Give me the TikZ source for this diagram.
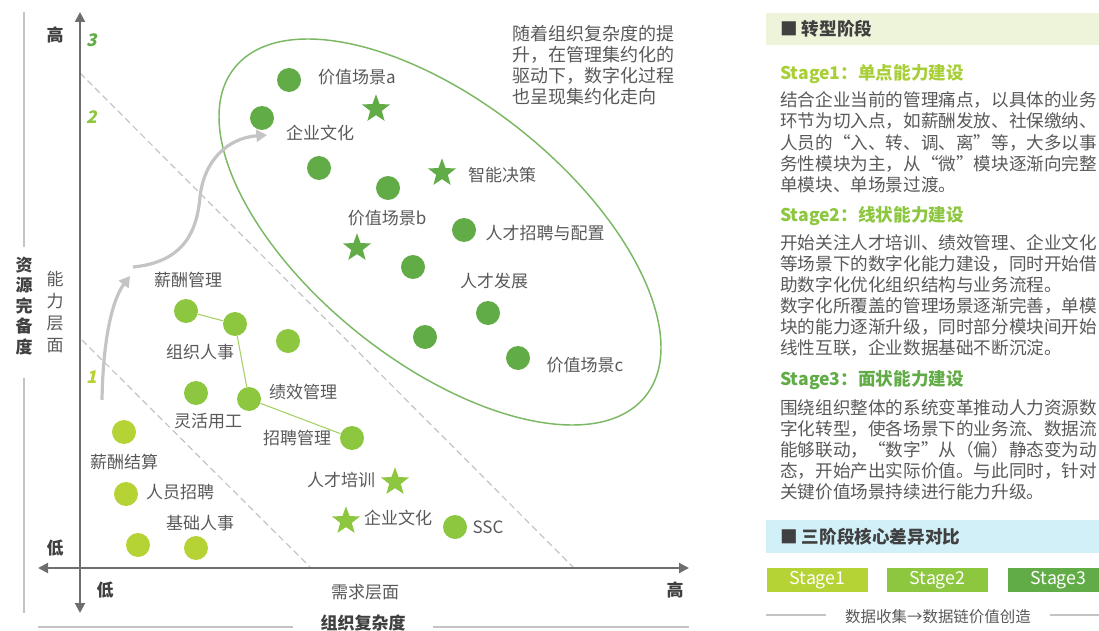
\documentclass[tikz,border=0pt]{standalone}
\usepackage{fontspec}
\setmainfont{Noto Sans CJK SC}
\newfontfamily\numfont[FakeSlant=0.22,BoldFeatures={FakeSlant=0.22}]{Noto Sans CJK SC}
\usetikzlibrary{shapes.geometric,arrows.meta}
\definecolor{gA}{HTML}{62AC47}
\definecolor{gB}{HTML}{8DC63F}
\definecolor{gC}{HTML}{B5D334}
\definecolor{hA}{HTML}{A9CF38}
\definecolor{txt}{HTML}{595959}
\definecolor{dtxt}{HTML}{404040}
\definecolor{axisc}{HTML}{6E6E6E}
\definecolor{lgray}{HTML}{C4C4C4}
\definecolor{bandA}{HTML}{EEF4DA}
\definecolor{bandB}{HTML}{D2F0F8}
\newcommand{\labf}{\fontsize{12.75}{15}\selectfont}
\newcommand{\bodyf}{\fontsize{13.2}{16}\selectfont}
\begin{document}
\begin{tikzpicture}[x=0.75pt,y=-0.75pt,
  dotA/.style={circle,fill=gA,minimum size=18pt,inner sep=0pt},
  dotB/.style={circle,fill=gB,minimum size=18pt,inner sep=0pt},
  dotC/.style={circle,fill=gC,minimum size=18pt,inner sep=0pt},
  starA/.style={star,star points=5,star point ratio=2.4,fill=gA,minimum size=22pt,inner sep=0pt},
  starB/.style={star,star points=5,star point ratio=2.4,fill=gB,minimum size=22pt,inner sep=0pt},
  labtxt/.style={text=txt,font=\labf,inner sep=0pt},
  axl/.style={text=dtxt,font=\labf\bfseries,inner sep=0pt},
  numtxt/.style={font=\numfont\fontsize{13}{13}\selectfont\bfseries,inner sep=0pt},
  bodytxt/.style={text=txt,font=\bodyf,inner sep=0pt,anchor=west},
  headtxt/.style={font=\bodyf\bfseries,inner sep=0pt,anchor=west},
  axisline/.style={draw=axisc,line width=1.5pt,-{Triangle[width=7.5pt,length=7.5pt]}},
  guideline/.style={draw=lgray,line width=0.8pt},
  sepline/.style={draw=lgray,line width=0.9pt,dash pattern=on 5pt off 3pt},
  growarrow/.style={draw=lgray,line width=2.4pt,-{Triangle[width=9pt,length=8pt]}},
  linkline/.style={draw=gB!80,line width=0.8pt},
  sbox/.style={minimum width=75.75pt,minimum height=18pt,inner sep=0pt,text=white,font=\fontsize{13.3}{13.3}\selectfont}
]
\useasboundingbox (0,0) rectangle (1099,631);

% side guide lines
\coordinate (g1a) at (24,12); \coordinate (g1b) at (24,247);
\coordinate (g2a) at (24,378); \coordinate (g2b) at (24,613);
\draw[guideline] (g1a) -- (g1b);
\draw[guideline] (g2a) -- (g2b);
\coordinate (g3a) at (38,627); \coordinate (g3b) at (293,627);
\coordinate (g4a) at (433,627); \coordinate (g4b) at (689,627);
\draw[guideline] (g3a) -- (g3b);
\draw[guideline] (g4a) -- (g4b);

% dashed separators
\coordinate (d1a) at (80,73); \coordinate (d1b) at (573,567);
\coordinate (d2a) at (82,340); \coordinate (d2b) at (310,567);
\draw[sepline] (d1a) -- (d1b);
\draw[sepline] (d2a) -- (d2b);

% axes
\coordinate (O) at (80,568);
\coordinate (ytop) at (80,12); \coordinate (ybot) at (80,613);
\coordinate (xl) at (38,568); \coordinate (xr) at (689,568);
\draw[axisline] (O) -- (ytop);
\draw[axisline] (O) -- (ybot);
\draw[axisline] (O) -- (xl);
\draw[axisline] (O) -- (xr);

% axis labels
\node[axl] (yhi) at (55,35) {高};
\node[axl] (ylo) at (55,548) {低};
\node[axl] (xlo) at (105,590) {低};
\node[axl] (xhi) at (675,590) {高};
\node[labtxt] (xdem) at (365,592) {需求层面};
\node[axl] (xtitle) at (363,623) {组织复杂度};
\node[axl,align=center,font=\fontsize{12.75}{15.4}\selectfont\bfseries] (ytitle) at (24,306) {资\\源\\完\\备\\度};
\node[labtxt,align=center,font=\fontsize{12.75}{16.3}\selectfont] (ycap) at (55,312) {能\\力\\层\\面};
\node[numtxt,text=gA] (n3) at (92,40) {3};
\node[numtxt,text=gB] (n2) at (92,117) {2};
\node[numtxt,text=gC] (n1) at (92,377) {1};

% ellipse
\draw[gA!85,line width=1.1pt,rotate around={-38.6:(440,232)}] (440,232) ellipse [x radius=263, y radius=130];

% growth arrows
\coordinate (ga0) at (102,400); \coordinate (ga1) at (130,276);
\coordinate (gb0) at (133,267); \coordinate (gbm) at (200,197); \coordinate (gb1) at (267,135);
\draw[growarrow] (ga0) .. controls (103,340) and (112,300) .. (ga1);
\draw[growarrow] (gb0) .. controls (185,262) and (197,230) .. (gbm) .. controls (204,160) and (228,138) .. (gb1);

% stage 3 items
\node[dotA] (a1) at (289,80) {};
\node[dotA] (a2) at (262,118) {};
\node[starA] (as1) at (376,109) {};
\node[dotA] (a3) at (319,168) {};
\node[dotA] (a4) at (388,188) {};
\node[starA] (as2) at (442,173) {};
\node[dotA] (a5) at (464,230) {};
\node[starA] (as3) at (357,248) {};
\node[dotA] (a6) at (413,267) {};
\node[dotA] (a7) at (488,313) {};
\node[dotA] (a8) at (425,337) {};
\node[dotA] (a9) at (518,358) {};
\node[labtxt] (la1) at (357,77) {价值场景a};
\node[labtxt] (la2) at (320,133) {企业文化};
\node[labtxt] (la3) at (502,175) {智能决策};
\node[labtxt] (la4) at (387,218) {价值场景b};
\node[labtxt] (la5) at (545,233) {人才招聘与配置};
\node[labtxt] (la6) at (494,281) {人才发展};
\node[labtxt] (la7) at (585,365) {价值场景c};

% stage 2 items
\node[dotB] (b1) at (186,311) {};
\node[dotB] (b2) at (235,324) {};
\node[dotB] (b3) at (288,341) {};
\node[dotB] (b4) at (196,393) {};
\node[dotB] (b5) at (249,399) {};
\node[dotB] (b6) at (352,438) {};
\node[starB] (bs1) at (395,482) {};
\node[starB] (bs2) at (346,521) {};
\node[dotB] (b7) at (455,527) {};
\draw[linkline] (b1) -- (b2) -- (b5) -- (b6);
\node[labtxt] (lb1) at (188,280) {薪酬管理};
\node[labtxt] (lb2) at (200,352) {组织人事};
\node[labtxt] (lb3) at (208,421) {灵活用工};
\node[labtxt] (lb4) at (303,392) {绩效管理};
\node[labtxt] (lb5) at (297,438) {招聘管理};
\node[labtxt] (lb6) at (341,480) {人才培训};
\node[labtxt] (lb7) at (398,518) {企业文化};
\node[labtxt] (lb8) at (488,527) {SSC};

% stage 1 items
\node[dotC] (c1) at (124,432) {};
\node[dotC] (c2) at (126,494) {};
\node[dotC] (c3) at (138,545) {};
\node[dotC] (c4) at (196,548) {};
\node[labtxt] (lc1) at (124,462) {薪酬结算};
\node[labtxt] (lc2) at (180,492) {人员招聘};
\node[labtxt] (lc3) at (200,523) {基础人事};

% note
\node[bodytxt,font=\fontsize{13.5}{15.75}\selectfont] (nt1) at (512,34) {随着组织复杂度的提};
\node[bodytxt,font=\fontsize{13.5}{15.75}\selectfont] (nt2) at (512,55) {升，在管理集约化的};
\node[bodytxt,font=\fontsize{13.5}{15.75}\selectfont] (nt3) at (512,76) {驱动下，数字化过程};
\node[bodytxt,font=\fontsize{13.5}{15.75}\selectfont] (nt4) at (512,97) {也呈现集约化走向};

% right panel
\fill[bandA] (766,13) rectangle (1110,45);
\node[headtxt,text=dtxt] (h1) at (780,29) {■ 转型阶段};
\node[headtxt,text=hA] (s1h) at (780,74) {Stage1：单点能力建设};
\node[bodytxt] (s1a) at (780,100) {结合企业当前的管理痛点，以具体的业务};
\node[bodytxt] (s1b) at (780,121) {环节为切入点，如薪酬发放、社保缴纳、};
\node[bodytxt] (s1c) at (780,143) {人员的“入、转、调、离”等，大多以事};
\node[bodytxt] (s1d) at (780,164) {务性模块为主，从“微”模块逐渐向完整};
\node[bodytxt] (s1e) at (780,185) {单模块、单场景过渡。};
\node[headtxt,text=gB] (s2h) at (780,216) {Stage2：线状能力建设};
\node[bodytxt] (s2a) at (780,243) {开始关注人才培训、绩效管理、企业文化};
\node[bodytxt] (s2b) at (780,264) {等场景下的数字化能力建设，同时开始借};
\node[bodytxt] (s2c) at (780,285) {助数字化优化组织结构与业务流程。};
\node[bodytxt] (s2d) at (780,306) {数字化所覆盖的管理场景逐渐完善，单模};
\node[bodytxt] (s2e) at (780,327) {块的能力逐渐升级，同时部分模块间开始};
\node[bodytxt] (s2f) at (780,348) {线性互联，企业数据基础不断沉淀。};
\node[headtxt,text=gA] (s3h) at (780,380) {Stage3：面状能力建设};
\node[bodytxt] (s3a) at (780,408) {围绕组织整体的系统变革推动人力资源数};
\node[bodytxt] (s3b) at (780,429) {字化转型，使各场景下的业务流、数据流};
\node[bodytxt] (s3c) at (780,450) {能够联动，“数字”从（偏）静态变为动};
\node[bodytxt] (s3d) at (780,471) {态，开始产出实际价值。与此同时，针对};
\node[bodytxt] (s3e) at (780,492) {关键价值场景持续进行能力升级。};
\fill[bandB] (766,520) rectangle (1110,553);
\node[headtxt,text=dtxt] (h2) at (780,537) {■ 三阶段核心差异对比};
\node[sbox,fill=gC] (st1) at (817.5,580) {Stage1};
\node[sbox,fill=gB] (st2) at (937.5,580) {Stage2};
\node[sbox,fill=gA] (st3) at (1058.5,580) {Stage3};
\coordinate (bl1) at (766,615); \coordinate (bl2) at (826,615);
\coordinate (bl3) at (1050,615); \coordinate (bl4) at (1110,615);
\draw[guideline] (bl1) -- (bl2);
\draw[guideline] (bl3) -- (bl4);
\node[labtxt,font=\fontsize{11.6}{12}\selectfont] (flow) at (938,617) {数据收集→数据链价值创造};
\end{tikzpicture}
\end{document}
